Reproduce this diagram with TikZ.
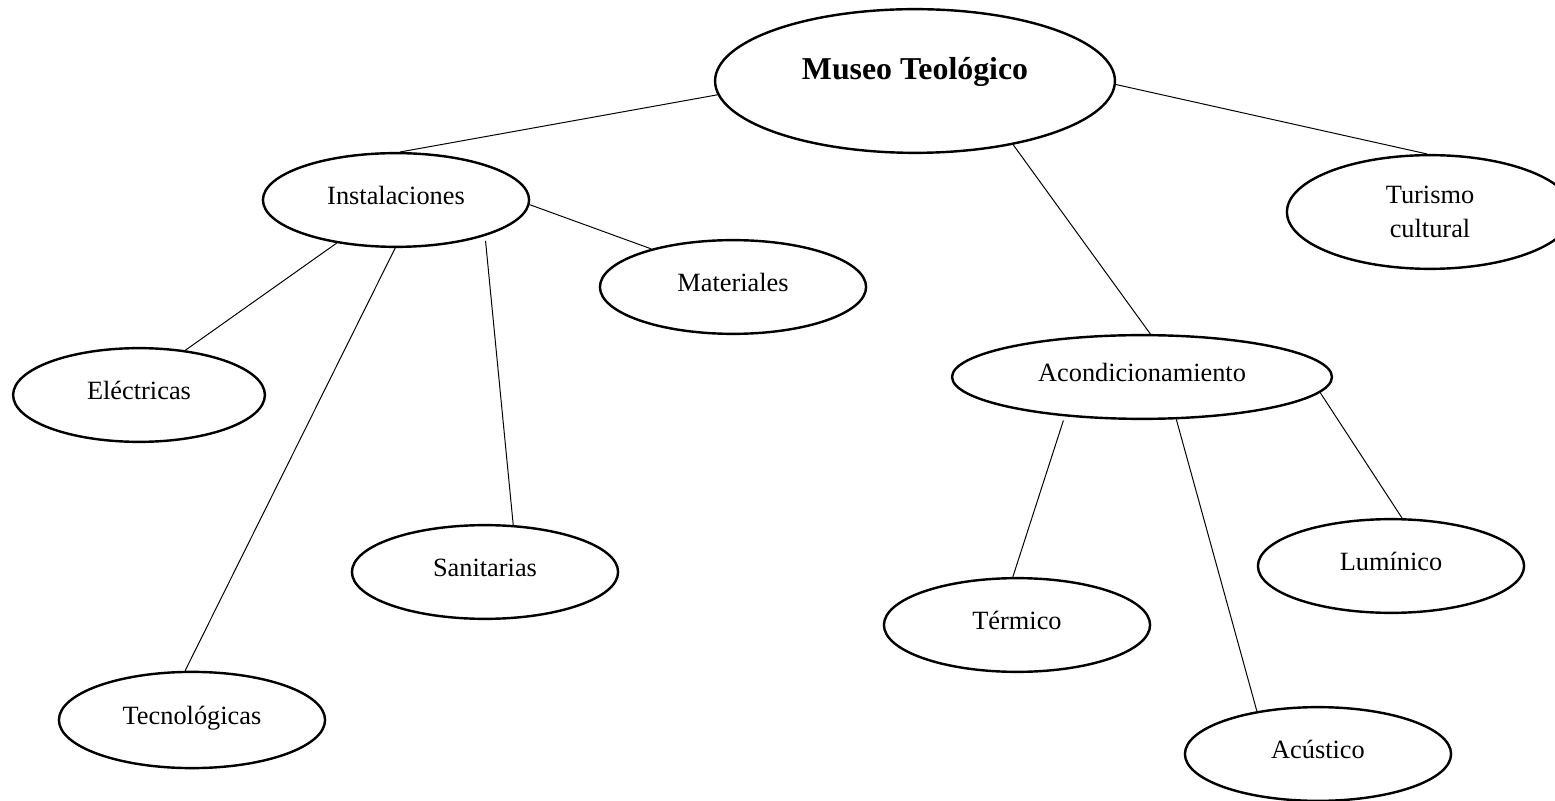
\documentclass[tikz,border=0pt]{standalone}
\usepackage{fontspec}
\setmainfont{Liberation Serif}
\usetikzlibrary{shapes.geometric}

\begin{document}
\begin{tikzpicture}[x=0.016cm,y=-0.016cm,
  box/.style={draw,ellipse,line width=1.1pt,inner sep=0pt,
    minimum width=4.26cm,minimum height=1.5cm,
    text height=8pt,text depth=4pt,font=\fontsize{12}{15}\selectfont},
  link/.style={line width=0.45pt}]
\useasboundingbox (0,0) rectangle (1555,801);

\node[box,minimum width=6.4cm,minimum height=2.3cm,text height=10pt,text depth=11.8pt,
  font=\fontsize{14.5}{17}\selectfont\bfseries] (museo) at (915,81) {Museo Teológico};

\node[box] (inst) at (396,200) {Instalaciones};
\node[box] (mat) at (733,287) {Materiales};
\node[box,minimum width=4.03cm] (elec) at (139,395) {Eléctricas};
\node[box] (sanit) at (485,572) {Sanitarias};
\node[box,minimum height=1.54cm] (tecno) at (192,720) {Tecnológicas};

\node[box,minimum width=4.58cm,minimum height=1.82cm,align=center,
  text height=,text depth=,font=\fontsize{12}{15.5}\selectfont] (tur) at (1430,212) {Turismo\\cultural};

\node[box,minimum width=6.08cm,minimum height=1.34cm] (acond) at (1142,377) {Acondicionamiento};
\node[box] (term) at (1017,625) {Térmico};
\node[box] (lum) at (1391,566) {Lumínico};
\node[box] (acus) at (1318,754) {Acústico};

\draw[link] (museo.184) -- (inst.85);
\draw[link] (museo.359) -- (tur.93);
\draw[link] (museo.327) -- (acond.79);

\draw[link] (inst.358) -- (mat.155);
\draw[link] (inst.216) -- (elec.44);
\draw[link] (inst.269) -- (tecno.98);
\draw[link,shorten <=2.2pt] (inst.338) -- (sanit.59);

\draw[link,shorten <=2pt] (acond.207) -- (term.95);
\draw[link] (acond.309) -- (acus.145);
\draw[link] (acond.355) -- (lum.77);
\end{tikzpicture}
\end{document}
